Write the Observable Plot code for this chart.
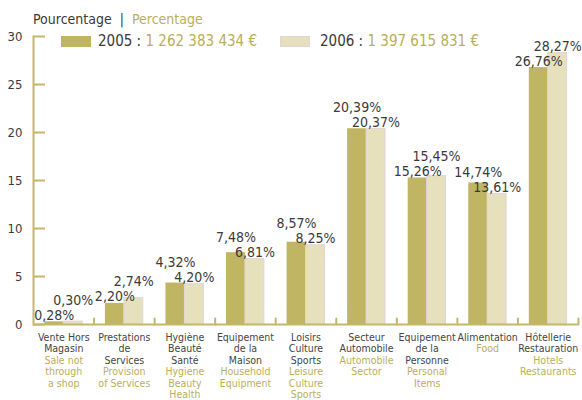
<!DOCTYPE html>
<html>
<head>
<meta charset="utf-8">
<script src="https://cdn.jsdelivr.net/npm/d3@7"></script>
<script src="https://cdn.jsdelivr.net/npm/@observablehq/plot@0.6"></script>
<style>
  body { margin: 0; background: #fff; font-family: "DejaVu Sans Condensed", "DejaVu Sans", sans-serif; }
  #wrap { position: relative; width: 582px; height: 400px; overflow: hidden; }
  #wrap svg { position: absolute; left: 0; top: 0; font-family: "DejaVu Sans Condensed", "DejaVu Sans", sans-serif; }
  .ttl { position: absolute; left: 33px; top: 10px; font-size: 14px; line-height: 18px; color: #3a3a3a; white-space: nowrap; }
  .olive { color: #b9ae5a; }
  .sw { position: absolute; top: 36px; width: 30px; height: 11px; box-sizing: border-box; }
  .lg { position: absolute; top: 32px; font-size: 15px; line-height: 18px; color: #3a3a3a; white-space: nowrap; }
</style>
</head>
<body>
<div id="wrap"></div>
<script>
// ---- data ----
const categoriesFr = [
  "Vente Hors\nMagasin",
  "Prestations\nde\nServices",
  "Hygiène\nBeauté\nSanté",
  "Equipement\nde la\nMaison",
  "Loisirs\nCulture\nSports",
  "Secteur\nAutomobile",
  "Equipement\nde la\nPersonne",
  "Alimentation",
  "Hôtellerie\nRestauration"
];
const categoriesEn = [
  "Sale not\nthrough\na shop",
  "Provision\nof Services",
  "Hygiene\nBeauty\nHealth",
  "Household\nEquipment",
  "Leisure\nCulture\nSports",
  "Automobile\nSector",
  "Personal\nItems",
  "Food",
  "Hotels\nRestaurants"
];
const values2005 = [0.28, 2.20, 4.32, 7.48, 8.57, 20.39, 15.26, 14.74, 26.76];
const values2006 = [0.30, 2.74, 4.20, 6.81, 8.25, 20.37, 15.45, 13.61, 28.27];
const years = ["2005", "2006"];
const totals = ["1 262 383 434 €", "1 397 615 831 €"];
const yTicks = [0, 5, 10, 15, 20, 25, 30];
const titleFr = "Pourcentage";
const titleEn = "Percentage";

// ---- styles ----
const C2005 = "#bfb563";
const C2006 = "#e6e0bd";
const EDGE2006 = "#e2d2da";
const AXIS = "#c3b86a";
const DARK = "#3a3a3a";
const OLIVE = "#b9ae5a";

const width = 582, height = 400;
const marginTop = 36, marginBottom = 76, marginLeft = 33, marginRight = 4;
const pxPerUnit = (height - marginTop - marginBottom) / 30;
const labelStep = 15 / pxPerUnit; // stacking step for overlapping value labels

const fmt = v => v.toFixed(2).replace(".", ",") + "%";

const rows = [];
categoriesFr.forEach((cat, i) => {
  const vals = [values2005[i], values2006[i]];
  years.forEach((year, j) => {
    const v = vals[j], other = vals[1 - j];
    const labelY = v > other ? Math.max(v, other + labelStep) : v;
    rows.push({cat, year, value: v, labelY});
  });
});
const catRows = categoriesFr.map((cat, i) => {
  const nFr = cat.split("\n").length;
  return {cat, fr: cat, en: Array(nFr).fill("\u00a0").join("\n") + "\n" + categoriesEn[i]};
});

const tickShape = {draw(context, l) { context.moveTo(0, 0); context.lineTo(0, -l); }};

const chart = Plot.plot({
  width, height, marginTop, marginBottom, marginLeft, marginRight,
  style: {fontFamily: '"DejaVu Sans Condensed", "DejaVu Sans", sans-serif', background: "transparent"},
  fx: {domain: categoriesFr, padding: 0, round: false, axis: null, label: null},
  x: {domain: years, paddingInner: 0, paddingOuter: 0.6, round: false, axis: null, label: null},
  y: {domain: [0, 30], axis: null, label: null},
  marks: [
    Plot.barY(rows.filter(d => d.year === "2005"), {fx: "cat", x: "year", y: "value", fill: C2005}),
    Plot.barY(rows.filter(d => d.year === "2006"), {fx: "cat", x: "year", y: "value", fill: C2006, stroke: EDGE2006, strokeWidth: 1}),
    Plot.ruleY([0], {stroke: AXIS, strokeWidth: 2}),
    Plot.vector([0], {y: d => d, frameAnchor: "right", length: 6, anchor: "start", rotate: 0, shape: tickShape, stroke: AXIS, strokeWidth: 2}),
    Plot.frame({anchor: "left", facetAnchor: "left", stroke: AXIS, strokeWidth: 2}),
    Plot.axisY(yTicks, {tickSize: 12, insetLeft: 12, tickPadding: 11, stroke: AXIS, strokeWidth: 2, fill: DARK, fontSize: 13, label: null}),
    Plot.text(rows, {fx: "cat", x: "year", y: "labelY", text: d => fmt(d.value), lineAnchor: "bottom", dy: -2, fontSize: 14, fill: DARK}),
    Plot.text(catRows, {fx: "cat", text: "fr", frameAnchor: "bottom", lineAnchor: "top", dy: 8, fontSize: 10.5, lineHeight: 1.1, fill: "#444"}),
    Plot.text(catRows, {fx: "cat", text: "en", frameAnchor: "bottom", lineAnchor: "top", dy: 8, fontSize: 10.5, lineHeight: 1.1, fill: OLIVE})
  ]
});

const wrap = document.getElementById("wrap");
wrap.appendChild(chart);

const ttl = document.createElement("div");
ttl.className = "ttl";
ttl.innerHTML = `${titleFr}&nbsp;&nbsp;|&nbsp;&nbsp;<span class="olive">${titleEn}</span>`;
wrap.appendChild(ttl);

const legendPos = [{sw: 61, tx: 98}, {sw: 280, tx: 320}];
years.forEach((yr, j) => {
  const sw = document.createElement("div");
  sw.className = "sw";
  sw.style.left = legendPos[j].sw + "px";
  sw.style.background = j === 0 ? C2005 : C2006;
  if (j === 1) sw.style.border = "1px solid " + EDGE2006;
  wrap.appendChild(sw);
  const lg = document.createElement("div");
  lg.className = "lg";
  lg.style.left = legendPos[j].tx + "px";
  lg.innerHTML = `${yr} : <span class="olive">${totals[j]}</span>`;
  wrap.appendChild(lg);
});
</script>
</body>
</html>
